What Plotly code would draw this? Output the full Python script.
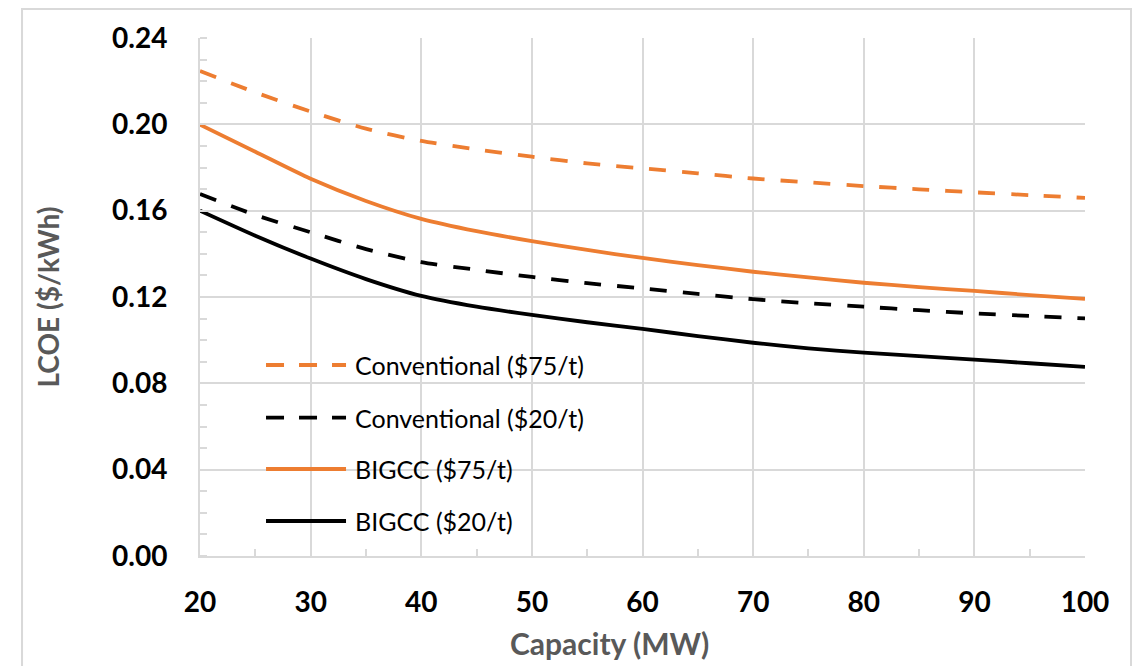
import plotly.graph_objects as go

capacity = [20, 25, 30, 35, 40, 45, 50, 55, 60, 65, 70, 75, 80, 85, 90, 95, 100]
conv_75 = [0.2247, 0.2148, 0.2059, 0.1980, 0.1923, 0.1884, 0.1850, 0.1819, 0.1796,
           0.1773, 0.1749, 0.1731, 0.1714, 0.1699, 0.1685, 0.1672, 0.1659]
conv_20 = [0.1677, 0.1580, 0.1500, 0.1422, 0.1362, 0.1326, 0.1293, 0.1264, 0.1240,
           0.1214, 0.1190, 0.1171, 0.1155, 0.1139, 0.1124, 0.1112, 0.1101]
bigcc_75 = [0.1998, 0.1873, 0.1748, 0.1645, 0.1562, 0.1505, 0.1459, 0.1418, 0.1381,
            0.1348, 0.1317, 0.1291, 0.1266, 0.1246, 0.1228, 0.1209, 0.1191]
bigcc_20 = [0.1600, 0.1484, 0.1378, 0.1283, 0.1205, 0.1155, 0.1117, 0.1083, 0.1052,
            0.1019, 0.0988, 0.0962, 0.0942, 0.0926, 0.0910, 0.0893, 0.0876]

series_names = ["Conventional ($75/t)", "Conventional ($20/t)", "BIGCC ($75/t)", "BIGCC ($20/t)"]
series_values = [conv_75, conv_20, bigcc_75, bigcc_20]

x_ticks = [20, 30, 40, 50, 60, 70, 80, 90, 100]
y_ticks = [0.00, 0.04, 0.08, 0.12, 0.16, 0.20, 0.24]
y_tick_labels = ["0.00", "0.04", "0.08", "0.12", "0.16", "0.20", "0.24"]
x_title = "Capacity (MW)"
y_title = "LCOE ($/kWh)"

ORANGE = "#ED7D31"
BLACK = "#000000"
GRID = "#d9d9d9"
DASH = "17px,16px"
styles = [
    dict(color=ORANGE, dash=DASH),
    dict(color=BLACK, dash=DASH),
    dict(color=ORANGE, dash="solid"),
    dict(color=BLACK, dash="solid"),
]
FONT = "Lato, 'Open Sans', sans-serif"

fig = go.Figure()
for name, vals, st in zip(series_names, series_values, styles):
    fig.add_trace(go.Scatter(
        x=capacity, y=vals, name=name, mode="lines",
        line=dict(color=st["color"], dash=st["dash"], width=3.8, shape="spline", smoothing=0.7),
        showlegend=False,
    ))

# Manual legend (in-plot, Excel style)
leg_y = [0.3687, 0.267, 0.168, 0.0676]
shapes = []
annotations = []
for name, st, yy in zip(series_names, styles, leg_y):
    shapes.append(dict(type="line", xref="paper", yref="paper", x0=0.0746, x1=0.165,
                       y0=yy, y1=yy, line=dict(color=st["color"], width=3.8,
                                                dash="18px,15px" if st["dash"] != "solid" else "solid")))
    annotations.append(dict(text=name, xref="paper", yref="paper", x=0.1729, y=yy,
                            xanchor="left", yanchor="middle", showarrow=False,
                            font=dict(family=FONT, size=25, color="#000000")))

# X axis title (centred on chart area like Excel)
annotations.append(dict(text=x_title, xref="paper", yref="paper", x=0.463, y=-0.168,
                        xanchor="center", yanchor="middle", showarrow=False,
                        font=dict(family=FONT, size=30, color="#595959", weight="bold")))

# Outer chart border
shapes.append(dict(type="rect", xref="paper", yref="paper", x0=-0.2011, x1=1.052,
                   y0=-0.25, y1=1.056, line=dict(color=GRID, width=2), layer="below"))

fig.update_layout(
    width=1145, height=666,
    margin=dict(l=192, r=68, t=30, b=118),
    paper_bgcolor="white", plot_bgcolor="white",
    font=dict(family=FONT),
    shapes=shapes, annotations=annotations,
    showlegend=False,
)
fig.update_xaxes(
    range=[20, 100], tickvals=x_ticks, ticktext=[str(v) for v in x_ticks],
    showgrid=True, gridcolor=GRID, gridwidth=1.5,
    showline=True, linecolor=GRID, linewidth=2,
    ticks="", ticklabelstandoff=20,
    tickfont=dict(family=FONT, size=28, color="#000000", weight="bold"),
    minor=dict(tickvals=[25, 35, 45, 55, 65, 75, 85, 95], ticks="inside", ticklen=7,
               tickcolor=GRID, tickwidth=1.5, showgrid=False),
    zeroline=False,
)
fig.update_yaxes(
    range=[0, 0.24], tickvals=y_ticks, ticktext=y_tick_labels,
    showgrid=True, gridcolor=GRID, gridwidth=1.5,
    showline=True, linecolor=GRID, linewidth=2,
    ticks="", ticklabelstandoff=25,
    tickfont=dict(family=FONT, size=28, color="#000000", weight="bold"),
    minor=dict(dtick=0.01, tick0=0, ticks="inside", ticklen=7,
               tickcolor=GRID, tickwidth=1.5, showgrid=False),
    title=dict(text=y_title, standoff=44,
               font=dict(family=FONT, size=28, color="#595959", weight="bold")),
    zeroline=False,
)

fig.write_html("out.html")
